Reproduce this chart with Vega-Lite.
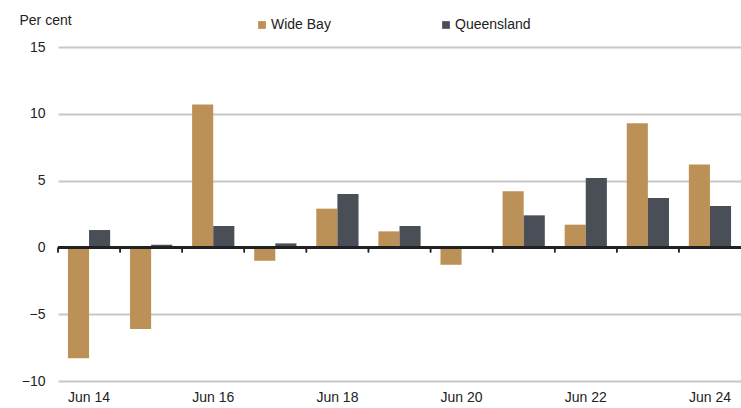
{
  "$schema": "https://vega.github.io/schema/vega-lite/v6.json",
  "width": 683,
  "height": 334,
  "autosize": {"type": "none"},
  "padding": {"left": 58, "top": 47, "right": 0, "bottom": 27},
  "background": "white",
  "config": {
    "view": {"stroke": null},
    "font": "Liberation Sans",
    "axis": {"labelFont": "Liberation Sans", "titleFont": "Liberation Sans", "labelColor": "#222", "titleColor": "#222"}
  },
  "data": {
    "values": [
      {"year": "Jun 14", "series": "Wide Bay", "value": -8.3},
      {"year": "Jun 14", "series": "Queensland", "value": 1.3},
      {"year": "Jun 15", "series": "Wide Bay", "value": -6.1},
      {"year": "Jun 15", "series": "Queensland", "value": 0.2},
      {"year": "Jun 16", "series": "Wide Bay", "value": 10.7},
      {"year": "Jun 16", "series": "Queensland", "value": 1.6},
      {"year": "Jun 17", "series": "Wide Bay", "value": -1.0},
      {"year": "Jun 17", "series": "Queensland", "value": 0.3},
      {"year": "Jun 18", "series": "Wide Bay", "value": 2.9},
      {"year": "Jun 18", "series": "Queensland", "value": 4.0},
      {"year": "Jun 19", "series": "Wide Bay", "value": 1.2},
      {"year": "Jun 19", "series": "Queensland", "value": 1.6},
      {"year": "Jun 20", "series": "Wide Bay", "value": -1.3},
      {"year": "Jun 20", "series": "Queensland", "value": 0.1},
      {"year": "Jun 21", "series": "Wide Bay", "value": 4.2},
      {"year": "Jun 21", "series": "Queensland", "value": 2.4},
      {"year": "Jun 22", "series": "Wide Bay", "value": 1.7},
      {"year": "Jun 22", "series": "Queensland", "value": 5.2},
      {"year": "Jun 23", "series": "Wide Bay", "value": 9.3},
      {"year": "Jun 23", "series": "Queensland", "value": 3.7},
      {"year": "Jun 24", "series": "Wide Bay", "value": 6.2},
      {"year": "Jun 24", "series": "Queensland", "value": 3.1}
    ]
  },
  "encoding": {
    "x": {
      "field": "year", "type": "nominal", "sort": null,
      "scale": {"paddingInner": 0.32, "paddingOuter": 0.16},
      "axis": {
        "orient": "bottom",
        "title": null,
        "values": ["Jun 14", "Jun 16", "Jun 18", "Jun 20", "Jun 22", "Jun 24"],
        "labelAngle": 0,
        "labelFontSize": 14,
        "labelPadding": 9,
        "ticks": false,
        "domain": false,
        "grid": false
      }
    }
  },
  "layer": [
    {
      "mark": {"type": "bar"},
      "encoding": {
        "xOffset": {"field": "series", "type": "nominal", "sort": ["Wide Bay", "Queensland"], "scale": {"paddingInner": 0, "paddingOuter": 0}},
        "y": {
          "field": "value", "type": "quantitative",
          "scale": {"domain": [-10, 15], "nice": false, "zero": false},
          "axis": {
            "values": [-10, -5, 0, 5, 10, 15],
            "title": "Per cent",
            "titleAngle": 0,
            "titleAlign": "left",
            "titleBaseline": "alphabetic",
            "titleX": -39,
            "titleY": -23,
            "titleFontSize": 14,
            "titleFontWeight": "normal",
            "labelFontSize": 14,
            "labelPadding": 13,
            "ticks": false,
            "domain": false,
            "grid": true,
            "gridColor": {"condition": {"test": "datum.value === 0", "value": "#222"}, "value": "#c8c8c8"},
            "gridWidth": 2
          }
        },
        "color": {
          "field": "series", "type": "nominal",
          "sort": ["Wide Bay", "Queensland"],
          "scale": {"domain": ["Wide Bay", "Queensland"], "range": ["#BC9157", "#4A4F57"]},
          "legend": {
            "title": null,
            "orient": "none",
            "direction": "horizontal",
            "legendX": 197,
            "legendY": -29,
            "symbolType": "square",
            "symbolSize": 60,
            "symbolStrokeWidth": 0,
            "labelFontSize": 14,
            "labelFont": "Liberation Sans",
            "labelColor": "#222",
            "labelOffset": 2,
            "columnPadding": 108
          }
        }
      }
    },
    {
      "mark": {"type": "rule", "color": "#222", "strokeWidth": 1.5},
      "encoding": {
        "x": {"field": "year", "type": "nominal", "sort": null, "bandPosition": -0.235},
        "y": {"datum": 0},
        "y2": {"datum": -0.38}
      }
    },
    {
      "mark": {"type": "rule", "color": "#222", "strokeWidth": 1.5},
      "encoding": {
        "x": null,
        "y": {"datum": 0}
      }
    }
  ]
}
